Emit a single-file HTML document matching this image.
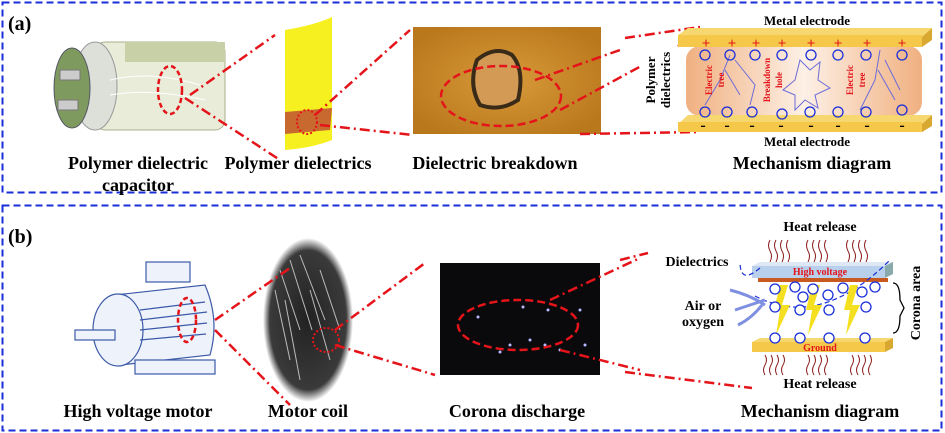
<!DOCTYPE html>
<html><head><meta charset="utf-8"><style>
body{margin:0;background:#fff}
svg{display:block}
text{font-family:"Liberation Serif",serif;font-weight:bold}
</style></head><body>
<svg width="945" height="433" viewBox="0 0 945 433" xmlns="http://www.w3.org/2000/svg">
<defs>
<radialGradient id="br" cx="50%" cy="50%" r="60%"><stop offset="0" stop-color="#d89a3a"/><stop offset="1" stop-color="#b9781c"/></radialGradient>
<linearGradient id="diel" x1="0" x2="1"><stop offset="0" stop-color="#f0b080"/><stop offset="0.5" stop-color="#fdf0e6"/><stop offset="1" stop-color="#f0b080"/></linearGradient>
<radialGradient id="coil" cx="50%" cy="50%" r="50%"><stop offset="0" stop-color="#222"/><stop offset="0.85" stop-color="#3a3a3a"/><stop offset="1" stop-color="#fff"/></radialGradient>
</defs>
<rect x="2.5" y="2.5" width="939" height="190" fill="none" stroke="#1a2fd8" stroke-width="2" stroke-dasharray="7,4"/>
<rect x="2.5" y="205.5" width="939" height="225" fill="none" stroke="#1a2fd8" stroke-width="2" stroke-dasharray="7,4"/>
<text x="8" y="30" font-size="20">(a)</text>
<text x="8" y="243" font-size="20">(b)</text>

<g>
<rect x="95" y="42" width="130" height="88" rx="10" fill="#e8ecd8" stroke="#a8b08a"/>
<rect x="125" y="42" width="100" height="20" fill="#c8d0a8"/>
<ellipse cx="95" cy="86" rx="22" ry="44" fill="#dde0d8" stroke="#999"/>
<ellipse cx="72" cy="88" rx="18" ry="40" fill="#7f9a5e" stroke="#556"/>
<rect x="60" y="70" width="20" height="10" fill="#ccc" stroke="#777"/>
<rect x="58" y="100" width="20" height="10" fill="#ccc" stroke="#777"/>
<path d="M110 80 Q150 70 200 85 M110 95 Q150 88 205 100" stroke="#fff" fill="none"/>
</g>
<ellipse cx="170" cy="90" rx="12" ry="24" fill="none" stroke="#e4141a" stroke-width="2.5" stroke-dasharray="5,3"/>
<path d="M285 30 Q315 25 332 17 L332 140 Q312 148 285 150 Z" fill="#f7f020"/>
<path d="M285 112 L332 108 L330 130 L285 134 Z" fill="#c86a30"/>
<ellipse cx="307" cy="122" rx="10" ry="12" fill="none" stroke="#e4141a" stroke-width="2" stroke-dasharray="2,2"/>
<rect x="413" y="27" width="188" height="107" fill="url(#br)"/>
<path d="M477 60 Q495 45 512 55 Q525 70 518 100 Q500 112 480 105 Q468 85 477 60Z" fill="#d29a55" stroke="#3a2a18" stroke-width="4"/>
<ellipse cx="501" cy="96" rx="60" ry="30" fill="none" stroke="#e4141a" stroke-width="2.5" stroke-dasharray="8,4"/>
<g stroke="#e4141a" stroke-width="2.5" fill="none" stroke-dasharray="10,4,2,4">
<path d="M190 95 L275 35"/><path d="M185 98 L280 160"/>
<path d="M315 115 L410 30"/><path d="M320 125 L413 135"/>
<path d="M535 80 L620 50"/><path d="M560 110 L680 45"/><path d="M580 134 L700 132"/>
<path d="M625 38 L700 27"/>
</g>
<rect x="686" y="46" width="236" height="70" rx="14" fill="url(#diel)"/>
<path d="M678 35 L688 28 L932 28 L922 37 Z" fill="#f7d770"/><rect x="678" y="35" width="244" height="12" fill="#f5c84a"/><path d="M922 37 L932 28 L932 40 L922 47Z" fill="#d9a830"/>
<path d="M678 124 L688 115 L932 115 L922 124 Z" fill="#f7d770"/><rect x="678" y="122" width="244" height="10" fill="#f5c84a"/><path d="M922 124 L932 115 L932 126 L922 132Z" fill="#d9a830"/>
<g stroke="#6c6cd8" stroke-width="1" fill="none">
<path d="M730 55 L720 80 L705 105 M725 70 L740 95 M735 60 L755 85 L750 105"/>
<path d="M880 50 L875 80 L860 110 M878 70 L895 100 M885 60 L900 90"/>
<path d="M800 60 L810 70 L820 62 L818 80 L830 88 L815 95 L818 108 L805 100 L795 110 L795 95 L783 90 L795 80 Z"/>
</g>
<g font-size="15" fill="#e4141a" text-anchor="middle">
<text x="706" y="48">+</text><text x="732" y="48">+</text><text x="756" y="48">+</text><text x="782" y="48">+</text><text x="811" y="48">+</text><text x="838" y="48">+</text><text x="867" y="48">+</text><text x="902" y="48">+</text>
</g>
<g font-size="16" fill="#000" text-anchor="middle">
<text x="703" y="130">-</text><text x="727" y="130">-</text><text x="752" y="130">-</text><text x="781" y="130">-</text><text x="811" y="130">-</text><text x="838" y="130">-</text><text x="867" y="130">-</text><text x="902" y="130">-</text>
</g>
<g fill="none" stroke="#1a2fd8" stroke-width="1.3">
<circle cx="705" cy="55" r="5"/><circle cx="730" cy="55" r="5"/><circle cx="755" cy="55" r="5"/><circle cx="782" cy="55" r="5"/><circle cx="811" cy="55" r="5"/><circle cx="838" cy="55" r="5"/><circle cx="866" cy="55" r="5"/><circle cx="902" cy="55" r="5"/>
<circle cx="705" cy="112" r="5"/><circle cx="727" cy="112" r="5"/><circle cx="752" cy="112" r="5"/><circle cx="782" cy="114" r="5"/><circle cx="810" cy="112" r="5"/><circle cx="838" cy="112" r="5"/><circle cx="866" cy="112" r="5"/><circle cx="902" cy="110" r="5"/>
</g>
<g font-size="9" fill="#e4141a" text-anchor="middle">
<text transform="translate(712,80) rotate(-90)">Electric</text><text transform="translate(724,80) rotate(-90)">tree</text>
<text transform="translate(770,80) rotate(-90)">Breakdown</text><text transform="translate(782,80) rotate(-90)">hole</text>
<text transform="translate(853,80) rotate(-90)">Electric</text><text transform="translate(865,80) rotate(-90)">tree</text>
</g>
<rect x="640" y="45" width="36" height="75" fill="#fff"/>
<g font-size="13" text-anchor="middle">
<text transform="translate(655,80) rotate(-90)">Polymer</text><text transform="translate(670,80) rotate(-90)">dielectrics</text>
<text x="807" y="25">Metal electrode</text>
<text x="807" y="146">Metal electrode</text>
</g>
<g font-size="18" text-anchor="middle">
<text x="812" y="169">Mechanism diagram</text>
<text x="138" y="169">Polymer dielectric</text>
<text x="138" y="191">capacitor</text>
<text x="298" y="169">Polymer dielectrics</text>
<text x="495" y="169">Dielectric breakdown</text>
</g>

<g stroke="#3c5aa8" fill="#eef2fa" stroke-width="1.2">
<rect x="146" y="262" width="44" height="20"/>
<path d="M115 295 L205 285 Q220 320 210 355 L120 365 Z"/>
<ellipse cx="118" cy="330" rx="25" ry="36"/>
<rect x="75" y="330" width="40" height="10"/>
<rect x="135" y="360" width="80" height="14"/>
<path d="M140 310 L205 302 M140 320 L207 312 M140 330 L207 323 M140 340 L206 334" />
</g>
<ellipse cx="187" cy="320" rx="9" ry="22" fill="none" stroke="#e4141a" stroke-width="2.5" stroke-dasharray="5,3"/>
<ellipse cx="308" cy="320" rx="45" ry="82" fill="url(#coil)"/>
<g stroke="#bbb" stroke-width="1" fill="none">
<path d="M280 270 L300 330 M290 260 L312 330 M300 255 L325 320 M275 290 L290 360 M285 300 L300 380 M310 290 L330 360 M320 270 L340 330"/>
</g>
<ellipse cx="326" cy="340" rx="13" ry="12" fill="none" stroke="#e4141a" stroke-width="2" stroke-dasharray="2,2"/>
<rect x="440" y="263" width="160" height="112" fill="#0a0a0c"/>
<g fill="#b8b8ff"><circle cx="478" cy="317" r="1.5"/><circle cx="523" cy="307" r="1.5"/><circle cx="548" cy="310" r="1.5"/><circle cx="580" cy="310" r="1.5"/><circle cx="510" cy="345" r="1.5"/><circle cx="530" cy="340" r="1.5"/><circle cx="545" cy="345" r="1.5"/><circle cx="560" cy="350" r="1.5"/><circle cx="585" cy="345" r="1.5"/><circle cx="500" cy="352" r="1.5"/></g>
<ellipse cx="518" cy="325" rx="60" ry="25" fill="none" stroke="#e4141a" stroke-width="2.5" stroke-dasharray="8,4"/>
<g stroke="#e4141a" stroke-width="2.5" fill="none" stroke-dasharray="10,4,2,4">
<path d="M215 320 L290 268"/><path d="M215 330 L290 405"/>
<path d="M335 330 L425 263"/><path d="M335 345 L435 375"/>
<path d="M550 300 L640 258"/><path d="M560 350 L640 370"/>
<path d="M620 260 L648 253"/><path d="M625 372 L752 388"/>
</g>
<g stroke="#8a1a1a" stroke-width="1" fill="none">
<path d="M770 262 q3 -6 0 -11 q-3 -6 0 -11 M776 262 q3 -6 0 -11 q-3 -6 0 -11 M782 262 q3 -6 0 -11 q-3 -6 0 -11 M788 262 q3 -6 0 -11 q-3 -6 0 -11"/>
<path d="M808 262 q3 -6 0 -11 q-3 -6 0 -11 M814 262 q3 -6 0 -11 q-3 -6 0 -11 M820 262 q3 -6 0 -11 q-3 -6 0 -11 M826 262 q3 -6 0 -11 q-3 -6 0 -11"/>
<path d="M848 262 q3 -6 0 -11 q-3 -6 0 -11 M854 262 q3 -6 0 -11 q-3 -6 0 -11 M860 262 q3 -6 0 -11 q-3 -6 0 -11 M866 262 q3 -6 0 -11 q-3 -6 0 -11"/>
<path d="M765 355 q3 5 0 10 q-3 5 0 10 M771 355 q3 5 0 10 q-3 5 0 10 M777 355 q3 5 0 10 q-3 5 0 10 M783 355 q3 5 0 10 q-3 5 0 10"/>
<path d="M808 355 q3 5 0 10 q-3 5 0 10 M814 355 q3 5 0 10 q-3 5 0 10 M820 355 q3 5 0 10 q-3 5 0 10 M826 355 q3 5 0 10 q-3 5 0 10"/>
<path d="M852 355 q3 5 0 10 q-3 5 0 10 M858 355 q3 5 0 10 q-3 5 0 10 M864 355 q3 5 0 10 q-3 5 0 10 M870 355 q3 5 0 10 q-3 5 0 10"/>
</g>
<path d="M752 266 L760 262 L893 262 L885 266 Z" fill="#dde8f4"/><rect x="752" y="266" width="133" height="12" fill="#b8d0ec"/><path d="M885 266 L893 262 L893 274 L885 278Z" fill="#8aa"/>
<rect x="758" y="278" width="130" height="4" fill="#c85a20"/>
<path d="M752 342 L760 338 L893 338 L885 342 Z" fill="#f7d770"/><rect x="752" y="342" width="133" height="10" fill="#f5c84a"/><path d="M885 342 L893 338 L893 348 L885 352Z" fill="#d9a830"/>
<path d="M755 296 Q820 330 890 260" fill="none" stroke="#1a2fd8" stroke-width="1.2" stroke-dasharray="5,3"/>
<path d="M760 268 Q740 285 740 262" fill="none" stroke="#1a2fd8" stroke-width="1.2" stroke-dasharray="5,3"/>
<g fill="#f4e020"><path d="M780 285 L788 285 L782 305 L790 305 L776 335 L780 310 L774 310Z"/><path d="M812 285 L820 285 L814 305 L822 305 L808 335 L812 310 L806 310Z"/><path d="M850 285 L858 285 L852 305 L860 305 L846 335 L850 310 L844 310Z"/></g>
<g fill="#fff" stroke="#1a2fd8" stroke-width="1.3">
<circle cx="775" cy="289" r="5"/><circle cx="795" cy="287" r="5"/><circle cx="813" cy="289" r="5"/><circle cx="803" cy="297" r="5"/><circle cx="828" cy="295" r="5"/><circle cx="843" cy="288" r="5"/><circle cx="862" cy="292" r="5"/><circle cx="875" cy="287" r="5"/>
<circle cx="775" cy="307" r="5"/><circle cx="800" cy="310" r="5"/><circle cx="829" cy="310" r="5"/><circle cx="866" cy="307" r="5"/>
<circle cx="775" cy="338" r="5"/><circle cx="800" cy="338" r="5"/><circle cx="829" cy="338" r="5"/><circle cx="865" cy="338" r="5"/>
</g>
<g stroke="#8090e0" stroke-width="3" fill="none"><path d="M730 290 Q750 295 765 305"/><path d="M735 310 Q750 305 765 300"/><path d="M738 325 Q752 318 762 305"/></g>
<path d="M893 283 Q900 283 900 300 L904 308 L900 316 Q900 333 893 333" fill="none" stroke="#000" stroke-width="1.3"/>
<g font-size="10" fill="#e4141a" text-anchor="middle"><text x="820" y="275">High voltage</text><text x="820" y="351">Ground</text></g>
<g font-size="14" text-anchor="middle">
<text x="820" y="231">Heat release</text>
<text x="820" y="388">Heat release</text>
<text x="697" y="266">Dielectrics</text>
<text x="703" y="310">Air or</text>
<text x="703" y="326">oxygen</text>
<text transform="translate(920,303) rotate(-90)">Corona area</text>
</g>
<g font-size="18" text-anchor="middle">
<text x="820" y="417">Mechanism diagram</text>
<text x="138" y="417">High voltage motor</text>
<text x="308" y="417">Motor coil</text>
<text x="517" y="417">Corona discharge</text>
</g>
</svg>
</body></html>
